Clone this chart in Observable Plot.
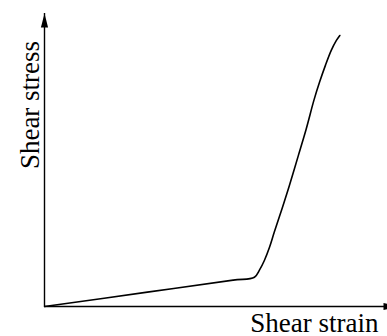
<!DOCTYPE html>
<html>
<head>
<meta charset="utf-8">
<script src="https://cdn.jsdelivr.net/npm/d3@7"></script>
<script src="https://cdn.jsdelivr.net/npm/@observablehq/plot@0.6"></script>
<style>
  html, body { margin: 0; padding: 0; background: #fff; }
  #chart svg { display: block; }
</style>
</head>
<body>
<div id="chart"></div>
<script>
// Curve (arbitrary units, 0–100 on each axis)
const strain = [0, 30.0, 55.0, 61.2, 62.7, 64.1, 65.6, 67.0, 69.2, 71.4, 74.0, 76.3, 78.6, 80.2, 81.9, 83.6, 85.1, 86.1];
const stress = [0, 4.9, 9.0, 10.0, 12.5, 15.7, 20.2, 25.4, 33.2, 41.3, 51.5, 60.6, 70.6, 76.6, 82.3, 87.4, 90.8, 92.5];
const xLabel = "Shear strain";
const yLabel = "Shear stress";

const curve = strain.map((s, i) => ({strain: s, stress: stress[i]}));

// Filled, elongated arrowheads (tip at the symbol origin)
const arrowUp = {draw(ctx) { ctx.moveTo(0, 0); ctx.lineTo(3.6, 14); ctx.lineTo(-3.6, 14); ctx.closePath(); }};
const arrowRight = {draw(ctx) { ctx.moveTo(0, 0); ctx.lineTo(-14, -3.6); ctx.lineTo(-14, 3.6); ctx.closePath(); }};

const font = "'Liberation Serif', 'Times New Roman', serif";

const chart = Plot.plot({
  width: 387,
  height: 336,
  marginLeft: 44,
  marginRight: 0,
  marginTop: 13,
  marginBottom: 30,
  style: {background: "#fff", fontFamily: font},
  x: {domain: [0, 100], axis: null},
  y: {domain: [0, 100], axis: null},
  marks: [
    Plot.ruleX([0], {stroke: "#000", strokeWidth: 1.4}),
    Plot.ruleY([0], {stroke: "#000", strokeWidth: 1.4}),
    Plot.dot([0], {frameAnchor: "top-left", symbol: arrowUp, fill: "#000", stroke: "none"}),
    Plot.dot([0], {frameAnchor: "bottom-right", symbol: arrowRight, fill: "#000", stroke: "none", dx: 10}),
    Plot.line(curve, {x: "strain", y: "stress", stroke: "#000", strokeWidth: 1.6, curve: "catmull-rom"}),
    Plot.text([xLabel], {text: d => d, frameAnchor: "bottom-right", textAnchor: "end", lineAnchor: "bottom",
      dx: -9, dy: 25, fontSize: 27, fill: "#000", fontFamily: font}),
    Plot.text([yLabel], {text: d => d, frameAnchor: "left", textAnchor: "middle", lineAnchor: "bottom",
      rotate: -90, dx: -6, dy: -55, fontSize: 27, fill: "#000", fontFamily: font})
  ]
});
document.getElementById("chart").appendChild(chart);
</script>
</body>
</html>
